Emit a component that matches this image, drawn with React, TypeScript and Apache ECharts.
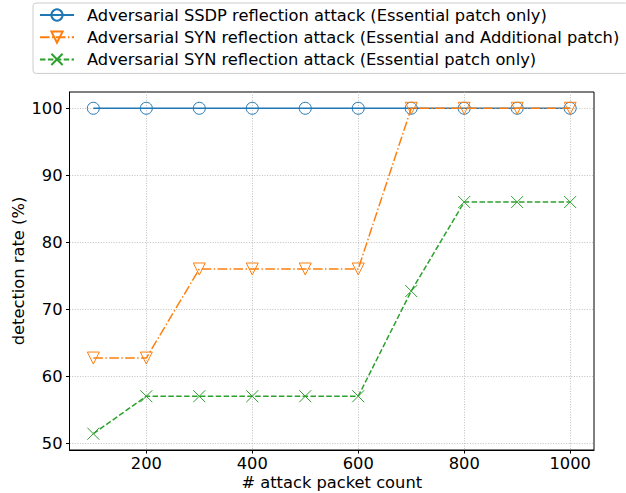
import React, { useEffect, useRef } from "react";
import * as echarts from "echarts";

const packetCounts = [100, 200, 300, 400, 500, 600, 700, 800, 900, 1000];
const ssdpEssential = [100, 100, 100, 100, 100, 100, 100, 100, 100, 100];
const synEssentialAdditional = [62.7, 62.7, 76, 76, 76, 76, 100, 100, 100, 100];
const synEssential = [51.4, 57, 57, 57, 57, 57, 72.7, 86, 86, 86];
const xTicks = [200, 400, 600, 800, 1000];
const yTicks = [50, 60, 70, 80, 90, 100];

const seriesNames = [
  "Adversarial SSDP reflection attack (Essential patch only)",
  "Adversarial SYN reflection attack (Essential and Additional patch)",
  "Adversarial SYN reflection attack (Essential patch only)",
];

const FONT = "DejaVu Sans";
const FS = 16.3;

export default function App() {
  const ref = useRef<HTMLDivElement>(null);
  useEffect(() => {
    if (!ref.current) return;
    const chart = echarts.init(ref.current, null, { renderer: "svg" });
    const pair = (vals: number[]) => packetCounts.map((x, i) => [x, vals[i]]);
    const gridLine = { show: true, lineStyle: { color: "#b0b0b0", width: 0.8, type: [1, 1.6] } };
    chart.setOption({
      animation: false,
      textStyle: { fontFamily: FONT },
      grid: {
        left: 69.5,
        right: 32,
        top: 92,
        bottom: 43,
        containLabel: false,
        outerBoundsMode: "none",
        show: true,
        borderColor: "#000",
        borderWidth: 1,
        backgroundColor: "transparent",
      },
      legend: {
        orient: "vertical",
        left: 33,
        top: 3,
        padding: [4, 9, 6, 6],
        itemWidth: 34,
        itemHeight: 14,
        itemGap: 6.2,
        borderColor: "#cccccc",
        borderWidth: 1,
        borderRadius: 3,
        backgroundColor: "rgba(255,255,255,0.8)",
        textStyle: { fontFamily: FONT, fontSize: FS, color: "#000", padding: [0, 0, 0, 8] },
        data: seriesNames,
      },
      xAxis: {
        type: "value",
        min: 55,
        max: 1045,
        name: "# attack packet count",
        nameLocation: "middle",
        nameGap: 24,
        nameMoveOverlap: false,
        nameTextStyle: { fontFamily: FONT, fontSize: FS, color: "#000", lineHeight: 16 },
        axisLine: { show: true, lineStyle: { color: "#000", width: 1 } },
        axisTick: { show: true, length: 3.5, lineStyle: { color: "#000" }, customValues: xTicks },
        axisLabel: {
          customValues: xTicks,
          formatter: (v: number) => String(v),
          fontFamily: FONT,
          fontSize: FS,
          lineHeight: 16,
          color: "#000",
          margin: 5,
        },
        splitLine: gridLine,
      },
      yAxis: {
        type: "value",
        min: 48.97,
        max: 102.43,
        name: "detection rate (%)",
        nameLocation: "middle",
        nameGap: 43,
        nameMoveOverlap: false,
        nameTextStyle: { fontFamily: FONT, fontSize: FS, color: "#000" },
        axisLine: { show: true, lineStyle: { color: "#000", width: 1 } },
        axisTick: { show: true, length: 3.5, lineStyle: { color: "#000" }, customValues: yTicks },
        axisLabel: {
          customValues: yTicks,
          formatter: (v: number) => String(v),
          fontFamily: FONT,
          fontSize: FS,
          color: "#000",
          margin: 7,
        },
        splitLine: gridLine,
      },
      series: [
        {
          name: seriesNames[0],
          type: "line",
          data: pair(ssdpEssential),
          color: "#1f77b4",
          symbol: "circle",
          symbolSize: 12,
          lineStyle: { color: "#1f77b4", width: 1.5, type: "solid" },
          itemStyle: { color: "rgba(0,0,0,0)", borderColor: "#1f77b4", borderWidth: 1 },
          z: 2,
        },
        {
          name: seriesNames[1],
          type: "line",
          data: pair(synEssentialAdditional),
          color: "#ff7f0e",
          symbol: "triangle",
          symbolRotate: 180,
          symbolSize: 12,
          lineStyle: { color: "#ff7f0e", width: 1.5, type: [9.6, 2.4, 1.5, 2.4] },
          itemStyle: { color: "rgba(0,0,0,0)", borderColor: "#ff7f0e", borderWidth: 1 },
          z: 3,
        },
        {
          name: seriesNames[2],
          type: "line",
          data: pair(synEssential),
          color: "#2ca02c",
          symbol: "path://M0,0L10,10M10,0L0,10",
          symbolSize: 12,
          lineStyle: { color: "#2ca02c", width: 1.5, type: [5.5, 2.4] },
          itemStyle: { color: "rgba(0,0,0,0)", borderColor: "#2ca02c", borderWidth: 1 },
          z: 4,
        },
      ],
    });
    return () => chart.dispose();
  }, []);
  return <div ref={ref} style={{ width: 626, height: 493, position: "absolute", left: 0, top: 0 }} />;
}
